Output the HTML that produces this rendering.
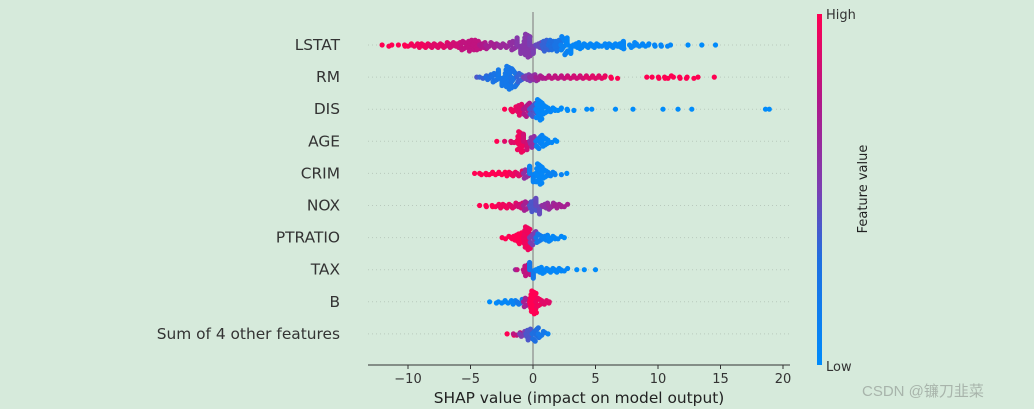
<!DOCTYPE html>
<html><head><meta charset="utf-8"><style>
html,body{margin:0;padding:0;background:#d6eadb;}
svg{display:block;font-family:"DejaVu Sans","Liberation Sans",sans-serif;}
</style></head><body>
<svg id="chart" width="1034" height="409" viewBox="0 0 1034 409" xmlns="http://www.w3.org/2000/svg">
<defs><linearGradient id="cbg" x1="0" y1="1" x2="0" y2="0">
<stop offset="0" stop-color="#008bfb"/><stop offset="0.3" stop-color="#1f6fe0"/><stop offset="0.5" stop-color="#7b3fb2"/><stop offset="0.75" stop-color="#b0188a"/><stop offset="1" stop-color="#ff0052"/></linearGradient></defs>
<rect width="1034" height="409" fill="#d6eadb"/>
<g id="grid"></g>
<line x1="533" y1="12" x2="533" y2="365" stroke="#8a8a8a" stroke-width="1.2"/>
<g id="dots"></g>
<g id="labels"></g>
<line x1="368" y1="365" x2="790" y2="365" stroke="#333" stroke-width="1"/>
<g id="ticks"></g>
<text x="579" y="403" text-anchor="middle" font-size="15.4" fill="#222">SHAP value (impact on model output)</text>
<rect x="817" y="14" width="5" height="351" fill="url(#cbg)"/>
<text x="826" y="19" font-size="13" fill="#333">High</text>
<text x="826" y="371" font-size="13" fill="#333">Low</text>
<text x="867" y="189" font-size="13" fill="#222" text-anchor="middle" transform="rotate(-90 867 189)">Feature value</text>
<text x="862" y="396" font-size="15" fill="#a8b4ab" font-family="'Liberation Sans','Noto Sans CJK SC',sans-serif">CSDN @镰刀韭菜</text>
</svg>
<script>
const features = ["LSTAT","RM","DIS","AGE","CRIM","NOX","PTRATIO","TAX","B","Sum of 4 other features"];
const xTicks = [-10,-5,0,5,10,15,20];
const tickLabels = ["\u221210","\u22125","0","5","10","15","20"];
// per feature: bin centers (SHAP), counts, feature value (0 low - 1 high)
const shapBins = [
 [-11.8,-11.3,-10.5,-10,-9.5,-9,-8.5,-8,-7.5,-7,-6.5,-6,-5.5,-5,-4.5,-4,-3.5,-3,-2.5,-2,-1.5,-1,-0.5,0,0.5,1,1.5,2,2.5,3,3.5,4,4.5,5,5.5,6,6.5,7,7.5,8,8.5,9,9.5,10,10.5,11,12.4,13.5,14.6],
 [-4.5,-4,-3.5,-3,-2.5,-2,-1.5,-1,-0.5,0,0.5,1,1.5,2,2.5,3,3.5,4,4.5,5,5.5,6,6.5,9.1,9.8,10.3,10.8,11.5,12,12.6,13.2,14.5],
 [-2,-1.5,-1,-0.5,0,0.5,1,1.5,2,2.5,3,4.3,4.7,6.6,8,10.4,11.6,12.7,18.6,18.9],
 [-2.9,-2,-1.5,-1,-0.5,0,0.5,1,1.5,1.9],
 [-4.4,-4,-3.5,-3,-2.5,-2,-1.5,-1,-0.5,0,0.5,1,1.5,2,2.7],
 [-4,-3.5,-3,-2.5,-2,-1.5,-1,-0.5,0,0.5,1,1.5,2,2.5],
 [-2.2,-1.5,-1,-0.5,0,0.5,1,1.5,2,2.5],
 [-1.4,-1,-0.5,0,0.5,1,1.5,2,2.5,3.5,4.1,5],
 [-3.2,-2.5,-2,-1.5,-1,-0.5,0,0.5,1,1.3],
 [-1.8,-1.3,-0.8,-0.3,0.2,0.7,1.2]
];
const binCounts = [
 [2,1,2,3,3,4,4,4,4,5,5,6,8,10,9,6,5,4,4,5,8,14,20,14,6,10,9,10,16,14,6,4,4,4,3,4,4,6,7,5,3,3,2,2,2,1,1,1,1],
 [1,3,5,8,14,20,16,8,6,6,4,3,3,3,3,3,3,3,3,3,3,2,2,1,2,2,3,2,2,2,1,1],
 [2,5,10,12,12,18,8,4,3,2,2,1,1,1,1,1,1,1,1,1],
 [1,2,3,18,14,10,12,8,3,1],
 [2,2,3,3,3,4,4,5,8,14,18,8,4,2,1],
 [2,2,3,4,4,5,6,8,10,14,6,5,4,3],
 [3,6,10,20,12,8,6,4,3,1],
 [1,2,10,14,6,4,4,4,3,1,1,1],
 [2,3,3,4,5,8,20,8,4,1],
 [2,3,5,10,12,5,1]
];
const featVals = [
 [1,1,1,1,.95,.95,.95,.9,.9,.9,.85,.85,.8,.8,.8,.75,.7,.7,.65,.65,.6,.55,.55,.5,.45,.35,.3,.25,.1,.05,.05,.05,.05,.05,.05,.05,.05,.05,.05,.05,.05,.05,.05,.05,.05,.05,0,0,0],
 [.4,.35,.3,.25,.2,.2,.25,.35,.5,.6,.7,.75,.8,.8,.8,.85,.85,.85,.9,.9,.9,.95,1,1,1,1,1,1,1,1,1,1],
 [1,.95,.9,.75,.4,.05,.05,.05,0,0,0,0,0,0,0,0,0,0,0,0],
 [1,.9,.9,.95,.85,.6,.1,.05,.05,0],
 [1,1,1,1,1,1,.95,.9,.6,.1,.05,.05,.1,.1,0],
 [1,1,1,.95,.95,.9,.85,.7,.4,.45,.6,.65,.7,.7],
 [1,1,1,.95,.5,.2,.1,.05,.05,0],
 [.6,.8,.8,.2,.05,.05,.05,.05,.05,0,0,0],
 [0,.05,.05,.1,.2,.7,1,.95,.9,.9],
 [1,.8,.5,.4,.3,.2,.1]
];
const NS="http://www.w3.org/2000/svg";
const X0=533, PX=12.5;
function xScale(v){return X0+v*PX;}
function yRow(i){return 45+i*32.1;}
function lerp(a,b,t){return Math.round(a+(b-a)*t);}
function color(f){
  const stops=[[0,[0,139,251]],[0.3,[31,111,224]],[0.5,[123,63,178]],[0.75,[176,24,138]],[1,[255,0,82]]];
  for(let k=1;k<stops.length;k++){if(f<=stops[k][0]){const a=stops[k-1],b=stops[k];const t=(f-a[0])/(b[0]-a[0]);return `rgb(${lerp(a[1][0],b[1][0],t)},${lerp(a[1][1],b[1][1],t)},${lerp(a[1][2],b[1][2],t)})`;}}
  return "rgb(255,0,82)";
}
const grid=document.getElementById('grid'),dots=document.getElementById('dots'),labels=document.getElementById('labels'),ticks=document.getElementById('ticks');
features.forEach((name,i)=>{
  const y=yRow(i);
  const g=document.createElementNS(NS,'line');
  g.setAttribute('x1',368);g.setAttribute('x2',790);g.setAttribute('y1',y);g.setAttribute('y2',y);
  g.setAttribute('stroke','#b9c9bd');g.setAttribute('stroke-dasharray','1 3');g.setAttribute('stroke-width','1');
  
  
  grid.appendChild(g);
  const t=document.createElementNS(NS,'text');
  t.setAttribute('x',340);t.setAttribute('y',y+5);t.setAttribute('text-anchor','end');t.setAttribute('font-size','15.4');t.setAttribute('fill','#333');
  t.textContent=name;
  
  
  labels.appendChild(t);
  const row=document.createElementNS(NS,'g');
  
  
  shapBins[i].forEach((c,b)=>{
    const n=binCounts[i][b], f=featVals[i][b];
    for(let k=0;k<n;k++){
      const jx=n>1?(-0.27+0.54*((k*7)%n)/(n-1)):0;
      const lvl=Math.ceil(k/2)*(k%2?1:-1);
      const p=document.createElementNS(NS,'circle');
      p.setAttribute('cx',xScale(c+jx).toFixed(1));
      p.setAttribute('cy',(y+lvl*1.2).toFixed(1));
      p.setAttribute('r','2.6');
      p.setAttribute('fill',color(f));
      
      
      row.appendChild(p);
    }
  });
  dots.appendChild(row);
});
xTicks.forEach((v,j)=>{
  const x=xScale(v);
  const l=document.createElementNS(NS,'line');
  l.setAttribute('x1',x);l.setAttribute('x2',x);l.setAttribute('y1',365);l.setAttribute('y2',369);l.setAttribute('stroke','#333');
  
  
  ticks.appendChild(l);
  const t=document.createElementNS(NS,'text');
  t.setAttribute('x',x);t.setAttribute('y',383);t.setAttribute('text-anchor','middle');t.setAttribute('font-size','13');t.setAttribute('fill','#333');
  t.textContent=tickLabels[j];
  
  
  ticks.appendChild(t);
});
</script>
</body></html>
